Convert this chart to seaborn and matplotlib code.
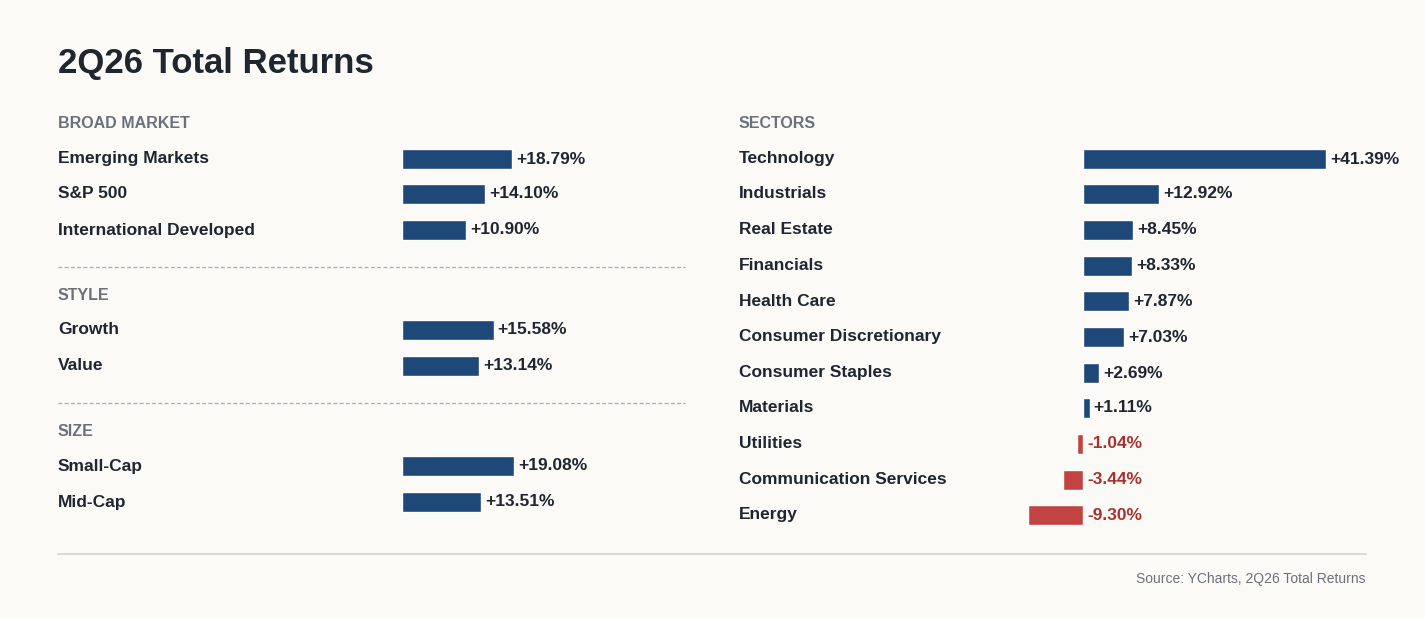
import matplotlib
matplotlib.use("Agg")
import matplotlib.pyplot as plt
import seaborn as sns

sns.set_theme(style="white")
plt.rcParams['font.family'] = ['Liberation Sans', 'DejaVu Sans']

# data
broad_labels = ["Emerging Markets", "S&P 500", "International Developed"]
broad_values = [18.79, 14.10, 10.90]
style_labels = ["Growth", "Value"]
style_values = [15.58, 13.14]
size_labels = ["Small-Cap", "Mid-Cap"]
size_values = [19.08, 13.51]
sector_labels = ["Technology", "Industrials", "Real Estate", "Financials", "Health Care",
                 "Consumer Discretionary", "Consumer Staples", "Materials", "Utilities",
                 "Communication Services", "Energy"]
sector_values = [41.39, 12.92, 8.45, 8.33, 7.87, 7.03, 2.69, 1.11, -1.04, -3.44, -9.30]

BG = "#fbfaf7"
NAVY = "#1d4877"
RED = "#c24442"
RED_TXT = "#a8322f"
DARK = "#1f2630"
GRAY = "#6b7079"

W, H = 1425, 619
PXPCT = 5.88  # pixels per percentage point

fig = plt.figure(figsize=(W / 100, H / 100), dpi=100)
fig.patch.set_facecolor(BG)


def make_ax(x0, x1, zero):
    ax = fig.add_axes([x0 / W, 0, (x1 - x0) / W, 1])
    ax.set_facecolor("none")
    ax.set_xlim((x0 - zero) / PXPCT, (x1 - zero) / PXPCT)
    ax.set_ylim(H, 0)
    ax.axis("off")
    return ax, x0, zero


def px(ax_info, xpix):
    ax, x0, zero = ax_info
    return (xpix - zero) / PXPCT


def draw_rows(ax_info, labels, values, ys, label_x):
    ax = ax_info[0]
    cols = [NAVY if v >= 0 else RED for v in values]
    ax.barh(ys, values, height=20, color=cols, left=0)
    for lab, v, y in zip(labels, values, ys):
        ax.text(px(ax_info, label_x), y, lab, ha="left", va="center",
                fontsize=12.5, fontweight="bold", color=DARK)
        ax.text(max(v, 0) + 0.7, y, f"{v:+.2f}%", ha="left", va="center",
                fontsize=12.5, fontweight="bold", color=DARK if v >= 0 else RED_TXT)


left = make_ax(0, 712, 402)
right = make_ax(712, W, 1083)

fig.text(58 / W, 1 - 63 / H, "2Q26 Total Returns", fontsize=25, fontweight="bold",
         color=DARK, va="center", ha="left")

for info, text, y, x in [(left, "BROAD MARKET", 124, 58), (left, "STYLE", 295, 58),
                         (left, "SIZE", 431, 58), (right, "SECTORS", 124, 739)]:
    info[0].text(px(info, x), y, text, fontsize=11.5, fontweight="bold", color=GRAY,
                 va="center", ha="left")

draw_rows(left, broad_labels, broad_values, [159, 194, 230], 58)
draw_rows(left, style_labels, style_values, [330, 366], 58)
draw_rows(left, size_labels, size_values, [466, 502], 58)
draw_rows(right, sector_labels, sector_values,
          [159, 194, 230, 266, 301, 337, 373, 408, 444, 480, 515], 739)

for y in [267, 403]:
    left[0].plot([px(left, 58), px(left, 685)], [y, y], ls=(0, (3, 2)), lw=0.9, color="#aaaaaa")
left[0].plot([px(left, 58), px(left, 712)], [554, 554], lw=1.2, color="#d6d4cf")
right[0].plot([px(right, 712), px(right, 1366)], [554, 554], lw=1.2, color="#d6d4cf")

fig.text(1366 / W, 1 - 579 / H, "Source: YCharts, 2Q26 Total Returns", fontsize=10,
         color=GRAY, ha="right", va="center")

fig.savefig("out.png", dpi=100, facecolor=BG)
